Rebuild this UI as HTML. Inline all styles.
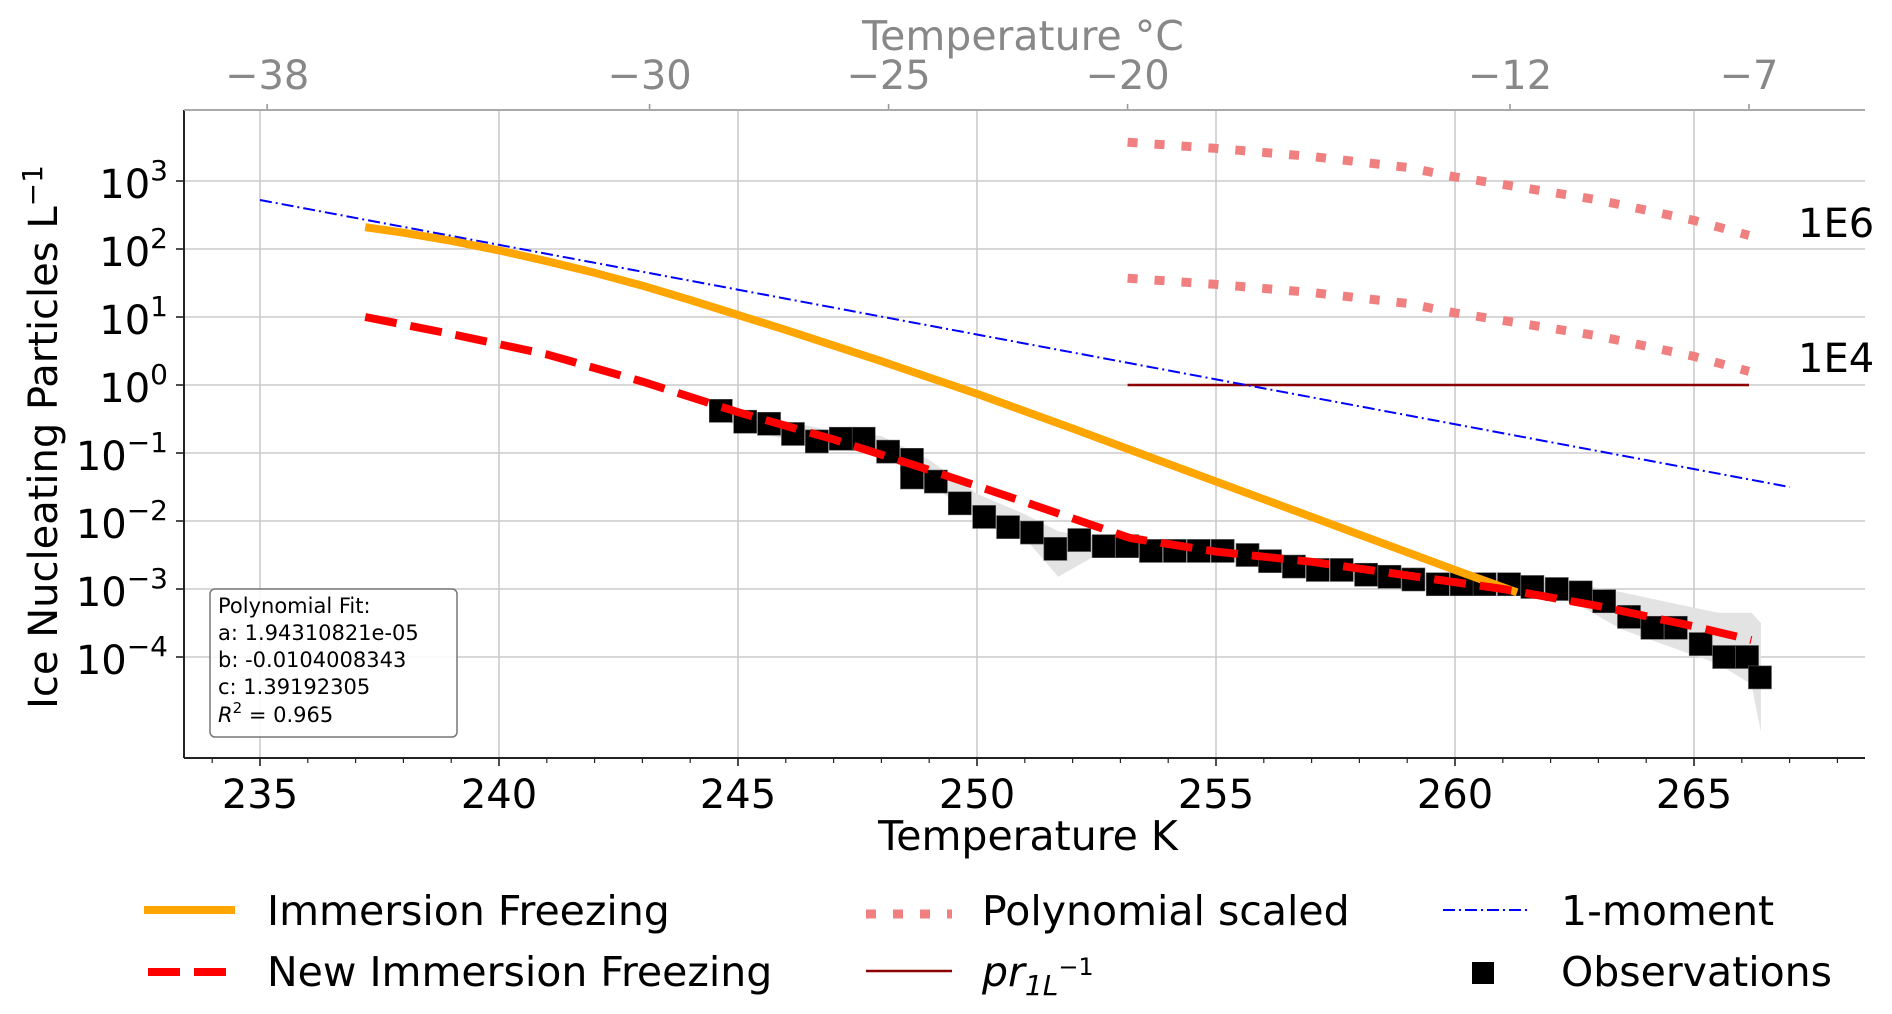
<!DOCTYPE html>
<html><head><meta charset="utf-8">
<style>
html,body{margin:0;padding:0;background:#fff;}
svg{display:block;font-family:"DejaVu Sans","Liberation Sans",sans-serif;}
</style></head>
<body>
<svg id="chart" width="1892" height="1014" viewBox="0 0 1892 1014" xmlns="http://www.w3.org/2000/svg">
<rect width="1892" height="1014" fill="#fff"/>
<g id="grid"></g>
<g id="plot"></g>
<g id="axes"></g>
<text x="1023" y="50" font-size="41" fill="#888" text-anchor="middle">Temperature °C</text>
<text x="1028" y="850" font-size="41" fill="#000" text-anchor="middle">Temperature K</text>
<text transform="translate(57,437) rotate(-90)" font-size="40" fill="#000" text-anchor="middle">Ice Nucleating Particles L<tspan dy="-15" font-size="28">−1</tspan></text>
<text x="1798" y="237" font-size="40">1E6</text>
<text x="1798" y="372" font-size="40">1E4</text>
<g>
<rect x="210" y="589" width="247" height="148" rx="5" fill="#fff" fill-opacity="0.85" stroke="#777" stroke-width="1.5"/>
<text x="218" y="613" font-size="21">Polynomial Fit:</text>
<text x="218" y="640" font-size="21">a: 1.94310821e-05</text>
<text x="218" y="667" font-size="21">b: -0.0104008343</text>
<text x="218" y="694" font-size="21">c: 1.39192305</text>
<text x="218" y="722" font-size="21"><tspan font-style="italic">R</tspan><tspan dy="-9" font-size="15">2</tspan><tspan dy="9"> = 0.965</tspan></text>
</g>
<g>
<g><line x1="144" y1="910" x2="235" y2="910" stroke="#ffa500" stroke-width="8"/><text x="267" y="925" font-size="41">Immersion Freezing</text></g>
<g><line x1="148" y1="972" x2="228" y2="972" stroke="#ff0000" stroke-width="8" stroke-dasharray="32 14"/><text x="267" y="986" font-size="41">New Immersion Freezing</text></g>
<g><line x1="866" y1="914" x2="952" y2="914" stroke="#f08080" stroke-width="9" stroke-dasharray="10 17"/><text x="982" y="925" font-size="41">Polynomial scaled</text></g>
<g><line x1="866" y1="971" x2="952" y2="971" stroke="#8b0000" stroke-width="2.5"/><text x="982" y="986" font-size="41" font-style="italic">pr<tspan dy="9" font-size="28">1L</tspan><tspan dy="-20" font-size="24" font-style="normal">−1</tspan></text></g>
<g><line x1="1443" y1="910" x2="1528" y2="910" stroke="#0000ff" stroke-width="2" stroke-dasharray="12 4 2 4"/><text x="1561" y="925" font-size="41">1-moment</text></g>
<g><rect x="1472" y="962" width="22" height="22" fill="#000"/><text x="1561" y="986" font-size="41">Observations</text></g>
</g>
<script>
const immT=[237.2,238,239,240,241,242,243,244,245,246,247,248,249,250,252,254,256,258,260,261.3];
const immV=[2.32,2.24,2.12,1.98,1.82,1.65,1.46,1.25,1.03,0.81,0.58,0.35,0.11,-0.13,-0.64,-1.16,-1.68,-2.2,-2.72,-3.05];
const newT=[237.2,239,241,243,245,247,249,251,253.2,255,257,259,261,263,265,266.2];
const newV=[1.0,0.75,0.45,0.05,-0.4,-0.8,-1.25,-1.72,-2.25,-2.45,-2.6,-2.8,-3.0,-3.25,-3.55,-3.75];
const momT=[235,267];
const momV=[2.72,-1.5];
const prT=[253.15,266.15];
const prV=[0,0];
const polyT=[253.15,255,257,259,260,261,263,265,266.15];
const poly6V=[3.57,3.48,3.36,3.2,3.06,2.95,2.72,2.42,2.2];
const poly4V=[1.57,1.48,1.36,1.2,1.06,0.95,0.72,0.42,0.2];
const obsT=[244.64,245.15,245.65,246.15,246.65,247.15,247.63,248.14,248.64,248.64,249.14,249.64,250.15,250.65,251.15,251.64,252.14,252.65,253.14,253.64,254.14,254.64,255.14,255.66,256.13,256.63,257.13,257.63,258.14,258.63,259.13,259.64,260.14,260.62,261.13,261.62,262.13,262.63,263.12,263.64,264.13,264.62,265.14,265.63,266.11,266.38];
const obsV=[-0.38,-0.54,-0.57,-0.72,-0.83,-0.79,-0.79,-0.98,-1.1,-1.36,-1.42,-1.74,-1.94,-2.09,-2.17,-2.41,-2.28,-2.37,-2.37,-2.44,-2.44,-2.44,-2.44,-2.5,-2.59,-2.67,-2.72,-2.72,-2.79,-2.82,-2.86,-2.93,-2.93,-2.93,-2.93,-2.97,-3.0,-3.05,-3.18,-3.41,-3.57,-3.57,-3.81,-4.0,-4.0,-4.3];
const bandT=[244.6,245.5,247,248,249,250,251,251.7,252.5,253.5,255,257,259,261,262.5,263.5,264.5,265.5,266.2,266.4];
const bandHi=[-0.3,-0.45,-0.68,-0.75,-1.1,-1.6,-1.9,-2.15,-2.25,-2.35,-2.4,-2.6,-2.78,-2.85,-2.92,-3.05,-3.2,-3.35,-3.35,-3.5];
const bandLo=[-0.5,-0.72,-0.95,-1.0,-1.45,-1.95,-2.25,-2.82,-2.5,-2.5,-2.55,-2.8,-2.95,-3.02,-3.2,-3.6,-3.85,-4.1,-4.4,-5.1];
const xTicks=[235,240,245,250,255,260,265];
const yTicks=[-4,-3,-2,-1,0,1,2,3];
const cTicks=[-38,-30,-25,-20,-12,-7];

const L=184,R=1865,T=110,B=758;
const X=k=>260+(k-235)*47.8;
const Y=v=>385-v*68;
const NS="http://www.w3.org/2000/svg";
function mk(tag,attrs,parent){const e=document.createElementNS(NS,tag);for(const k in attrs)e.setAttribute(k,attrs[k]);parent.appendChild(e);return e;}
const grid=document.getElementById('grid'),plot=document.getElementById('plot'),axes=document.getElementById('axes');

xTicks.forEach(t=>{
  const g=mk('line',{x1:X(t),x2:X(t),y1:T,y2:B,stroke:'#ccc','stroke-width':1.6},grid);
  
  
  const tk=mk('line',{x1:X(t),x2:X(t),y1:B,y2:B+8,stroke:'#222','stroke-width':1.6},axes);
  
  
  const lb=mk('text',{x:X(t),y:B+50,'font-size':40,'text-anchor':'middle'},axes);
  lb.textContent=t;
  
  
});
for(let k=234;k<=268;k++){
  if(k%5===0)continue;
  const m=mk('line',{x1:X(k),x2:X(k),y1:B,y2:B+5,stroke:'#222','stroke-width':1.2},axes);
  
  
}
yTicks.forEach(v=>{
  const g=mk('line',{x1:L,x2:R,y1:Y(v),y2:Y(v),stroke:'#ccc','stroke-width':1.6},grid);
  
  
  const tk=mk('line',{x1:L-8,x2:L,y1:Y(v),y2:Y(v),stroke:'#222','stroke-width':1.6},axes);
  
  
  const lb=mk('text',{x:L-16,y:Y(v)+17,'font-size':40,'text-anchor':'end'},axes);
  
  
  const a=document.createElementNS(NS,'tspan');a.textContent='10';lb.appendChild(a);
  const s=document.createElementNS(NS,'tspan');s.setAttribute('dy','-18');s.setAttribute('font-size','28');s.textContent=(v<0?'−':'')+Math.abs(v);lb.appendChild(s);
});
cTicks.forEach(c=>{
  const x=X(c+273.15);
  const tk=mk('line',{x1:x,x2:x,y1:T,y2:T-6,stroke:'#999','stroke-width':1.6},axes);
  
  
  const lb=mk('text',{x:x,y:89,'font-size':40,'text-anchor':'middle',fill:'#888'},axes);
  lb.textContent='−'+Math.abs(c);
  
  
});
const sp1=mk('line',{x1:L,x2:L,y1:T,y2:B,stroke:'#222','stroke-width':2},axes);


const sp2=mk('line',{x1:L,x2:R,y1:B,y2:B,stroke:'#222','stroke-width':2},axes);


const sp3=mk('line',{x1:L,x2:R,y1:T,y2:T,stroke:'#aaa','stroke-width':2},axes);



function pts(ts,vs){return ts.map((t,i)=>X(t).toFixed(1)+','+Y(vs[i]).toFixed(1)).join(' ');}
let bp=bandT.map((t,i)=>X(t)+','+Y(bandHi[i])).concat(bandT.slice().reverse().map((t,i)=>X(t)+','+Y(bandLo[bandLo.length-1-i])));
const band=mk('polygon',{points:bp.join(' '),fill:'#e3e3e3'},plot);


obsT.forEach((t,i)=>{
  const r=mk('rect',{x:X(t)-11.5,y:Y(obsV[i])-11.5,width:23,height:23,fill:'#000',stroke:'#555','stroke-width':0.6},plot);
  
  
});
const pr=mk('polyline',{points:pts(prT,prV),fill:'none',stroke:'#8b0000','stroke-width':2.5},plot);


const mom=mk('polyline',{points:pts(momT,momV),fill:'none',stroke:'#0000ff','stroke-width':2,'stroke-dasharray':'12 4 2 4'},plot);


const p6=mk('polyline',{points:pts(polyT,poly6V),fill:'none',stroke:'#f08080','stroke-width':9,'stroke-dasharray':'10 17'},plot);


const p4=mk('polyline',{points:pts(polyT,poly4V),fill:'none',stroke:'#f08080','stroke-width':9,'stroke-dasharray':'10 17'},plot);


const imm=mk('polyline',{points:pts(immT,immV),fill:'none',stroke:'#ffa500','stroke-width':8,'stroke-linejoin':'round'},plot);


const nw=mk('polyline',{points:pts(newT,newV),fill:'none',stroke:'#ff0000','stroke-width':8,'stroke-dasharray':'32 14'},plot);


</script>
</svg>
</body></html>
